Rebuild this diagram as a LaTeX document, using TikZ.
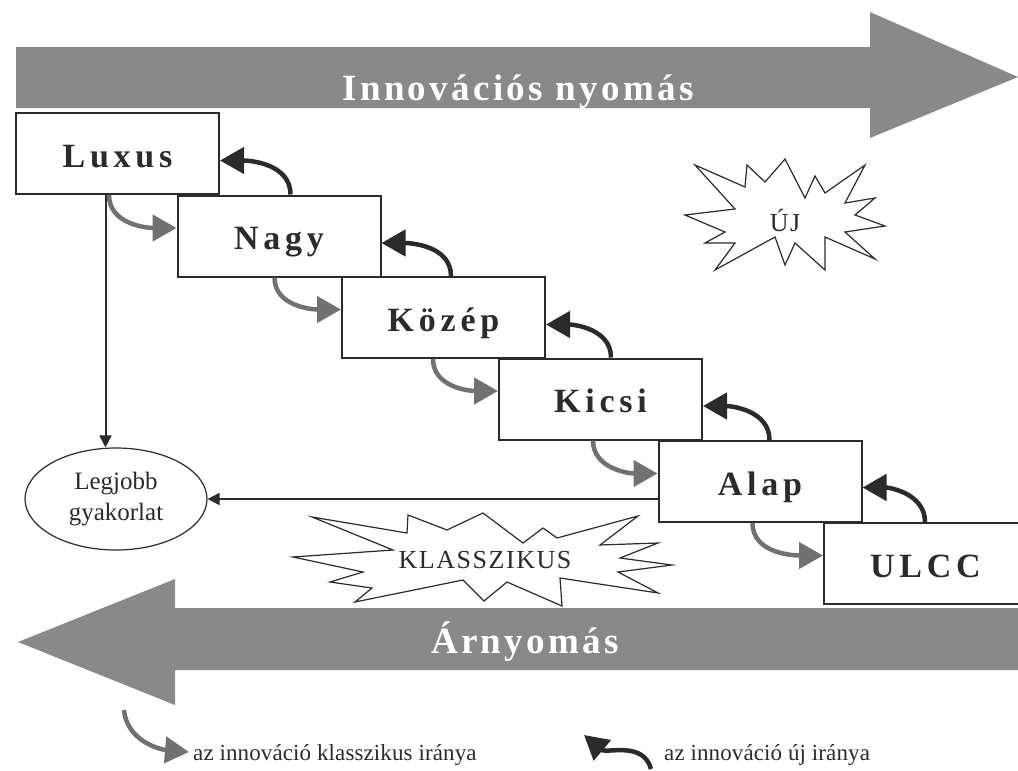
\documentclass[tikz,border=0pt]{standalone}
\usepackage{fontspec}
\setmainfont{Liberation Serif}
\newfontfamily\tagfont[LetterSpace=14]{Liberation Serif}
\newfontfamily\bannerfont[LetterSpace=9]{Liberation Serif}
\newfontfamily\burstfont[LetterSpace=6]{Liberation Serif}
\newfontfamily\legendfont[LetterSpace=0.5]{Liberation Serif}
\usetikzlibrary{arrows.meta,calc,shapes.geometric}
\definecolor{bannergrey}{HTML}{898989}
\definecolor{oldgrey}{HTML}{717171}
\definecolor{inkdark}{HTML}{2B2B2B}
\tikzset{
	segment/.style={draw=inkdark, line width=2pt, fill=white, minimum width=203pt, minimum height=81pt, inner sep=0pt, text height=27pt, text depth=0pt, text=inkdark, font=\tagfont\bfseries\fontsize{34}{36}\selectfont},
	classic/.style={draw=oldgrey, line width=4.5pt, -{Triangle[length=24pt,width=26pt]}},
	newdir/.style={draw=inkdark, line width=4.5pt, -{Triangle[length=24pt,width=26pt]}},
	plainarrow/.style={draw=inkdark, line width=2pt, -{Triangle[length=12pt,width=12pt]}},
	burst/.style={draw=inkdark, line width=1.2pt, fill=white},
	bannertext/.style={text=white, anchor=base, font=\bannerfont\bfseries\fontsize{37}{40}\selectfont},
	bursttext/.style={text=inkdark, font=\burstfont\fontsize{26}{30}\selectfont},
	legend/.style={text=inkdark, anchor=base west, inner sep=0pt, font=\legendfont\fontsize{23}{26}\selectfont}
}

\begin{document}
\begin{tikzpicture}[x=1pt,y=1pt]
			%%%%% START %%%%%
			\useasboundingbox (0,0) rectangle (1018,-771);
			\fill[white] (0,0) rectangle (1018,-771);
			
			% pressure banners
			\fill[bannergrey] (16,-47) -- (870,-47) -- (870,-12) -- (1018,-77) -- (870,-138) -- (870,-108) -- (16,-108) -- cycle;
			\node[bannertext] (innov) at (518,-100) {Innovációs nyomás};
			
			\fill[bannergrey] (1030,-608) -- (175,-608) -- (175,-579) -- (18,-642) -- (175,-705) -- (175,-670) -- (1030,-670) -- cycle;
			\node[bannertext] (price) at (525,-653) {Árnyomás};
			
			% segments
			\node[segment] (lux) at (117.5,-153.5) {Luxus};
			\node[segment] (nagy) at (279,-236) {Nagy};
			\node[segment] (kozep) at (443.5,-317.5) {Közép};
			\node[segment] (kicsi) at (600.5,-399) {Kicsi};
			\node[segment] (alap) at (760,-481.5) {Alap};
			\node[segment] (ulcc) at (925.5,-563.5) {ULCC};
			
			% classic direction (down)
			\draw[classic] ($(lux.south west)+(94,0)$) to[out=-90,in=180] ($(nagy.west)+(0,8)$);
			\draw[classic] ($(nagy.south west)+(98,0)$) to[out=-90,in=180] ($(kozep.west)+(0,8)$);
			\draw[classic] ($(kozep.south west)+(92,0)$) to[out=-90,in=180] ($(kicsi.west)+(0,8)$);
			\draw[classic] ($(kicsi.south west)+(95,0)$) to[out=-90,in=180] ($(alap.west)+(0,8)$);
			\draw[classic] ($(alap.south west)+(95,0)$) to[out=-90,in=180] ($(ulcc.west)+(0,8)$);
			
			% new direction (up)
			\draw[newdir] ($(nagy.north west)+(114,0)$) to[out=90,in=0] ($(lux.east)+(0,-7)$);
			\draw[newdir] ($(kozep.north west)+(110,0)$) to[out=90,in=0] ($(nagy.east)+(0,-7)$);
			\draw[newdir] ($(kicsi.north west)+(113,0)$) to[out=90,in=0] ($(kozep.east)+(0,-7)$);
			\draw[newdir] ($(alap.north west)+(112,0)$) to[out=90,in=0] ($(kicsi.east)+(0,-7)$);
			\draw[newdir] ($(ulcc.north west)+(102,0)$) to[out=90,in=0] ($(alap.east)+(0,-6)$);
			
			% best practice
			\node[ellipse, draw=inkdark, line width=1.2pt, minimum width=182pt, minimum height=102pt, inner sep=0pt, align=center, text=inkdark, font=\fontsize{25}{31}\selectfont] (best) at (116,-499) {Legjobb\\gyakorlat};
			\coordinate (luxfoot) at ($(lux.south)+(-12,0)$);
			\draw[plainarrow] (luxfoot) -- (luxfoot |- best.north);
			\draw[plainarrow] (alap.west |- best.east) -- (best.east);
			
			% bursts
			\draw[burst] (695,-165) -- (745,-187) -- (747,-165) -- (765,-182) -- (785,-159) -- (805,-198) -- (815,-176) -- (825,-193) -- (865,-165) -- (845,-203) -- (875,-198) -- (855,-215) -- (885,-226) -- (845,-232) -- (875,-259) -- (825,-237) -- (825,-270) -- (795,-243) -- (785,-265) -- (775,-237) -- (715,-270) -- (735,-243) -- (705,-243) -- (725,-232) -- (685,-215) -- (735,-209) -- cycle;
			\node[bursttext] (uj) at (785,-220) {ÚJ};
			
			\draw[burst] (312,-517) -- (407,-533) -- (408,-515) -- (447,-530) -- (483,-513) -- (523,-543) -- (543,-528) -- (557,-538) -- (638,-516) -- (600,-545) -- (658,-543) -- (620,-558) -- (672,-565) -- (618,-572) -- (658,-593) -- (560,-578) -- (562,-606) -- (507,-582) -- (484,-601) -- (463,-580) -- (355,-602) -- (372,-588) -- (330,-582) -- (363,-572) -- (293,-557) -- (393,-550) -- cycle;
			\node[bursttext] (klassz) at (485,-560) {KLASSZIKUS};
			
			% legend
			\coordinate (lgstart) at (124,-710);
			\coordinate (lgtip) at (189,-752);
			\draw[classic] (lgstart) to[out=-85,in=175] (lgtip);
			\node[legend] (lgclassic) at (193,-760) {az innováció klasszikus iránya};
			
			\coordinate (lnstart) at (651,-769);
			\coordinate (lntip) at (584,-735);
			\draw[newdir] (lnstart) to[out=105,in=-40] (lntip);
			\node[legend] (lgnew) at (664,-760) {az innováció új iránya};
			
			%%%%% END %%%%%
\end{tikzpicture}
\end{document}
